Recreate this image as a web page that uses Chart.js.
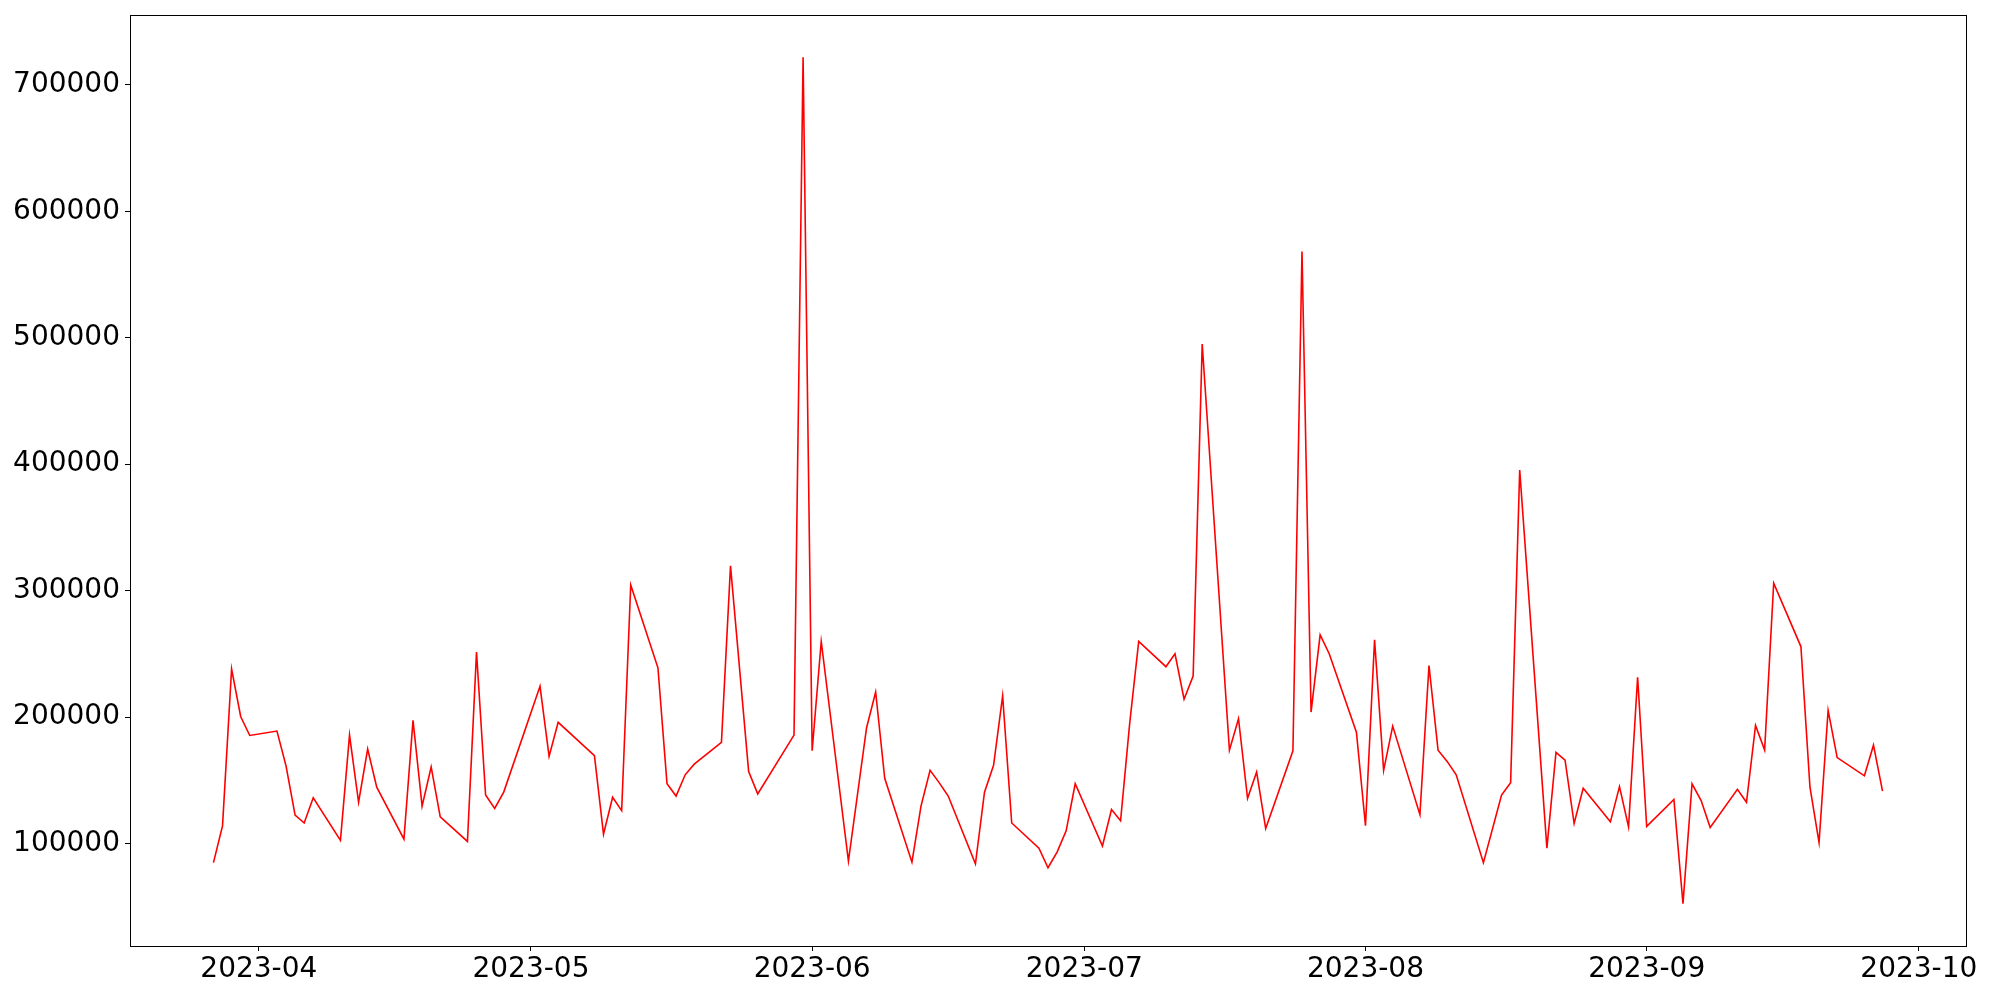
<!DOCTYPE html>
<html>
<head>
<meta charset="utf-8">
<script src="https://cdn.jsdelivr.net/npm/chart.js@4"></script>
<style>
  body { margin: 0; background: #fff; }
  #wrap { width: 2000px; height: 1000px; }
</style>
</head>
<body>
<div id="wrap"><canvas id="chart" width="2000" height="1000"></canvas></div>
<script>
// values
const dates = [
  '2023-03-27','2023-03-28','2023-03-29','2023-03-30','2023-03-31',
  '2023-04-03','2023-04-04','2023-04-05','2023-04-06','2023-04-07',
  '2023-04-10','2023-04-11','2023-04-12','2023-04-13','2023-04-14',
  '2023-04-17','2023-04-18','2023-04-19','2023-04-20','2023-04-21',
  '2023-04-24','2023-04-25','2023-04-26','2023-04-27','2023-04-28',
  '2023-05-02','2023-05-03','2023-05-04',
  '2023-05-08','2023-05-09','2023-05-10','2023-05-11','2023-05-12',
  '2023-05-15','2023-05-16','2023-05-17','2023-05-18','2023-05-19',
  '2023-05-22','2023-05-23','2023-05-25','2023-05-26',
  '2023-05-30','2023-05-31','2023-06-01','2023-06-02',
  '2023-06-05','2023-06-07','2023-06-08','2023-06-09',
  '2023-06-12','2023-06-13','2023-06-14','2023-06-15','2023-06-16',
  '2023-06-19','2023-06-20','2023-06-21','2023-06-22','2023-06-23',
  '2023-06-26','2023-06-27','2023-06-28','2023-06-29','2023-06-30',
  '2023-07-03','2023-07-04','2023-07-05','2023-07-06','2023-07-07',
  '2023-07-10','2023-07-11','2023-07-12','2023-07-13','2023-07-14',
  '2023-07-17','2023-07-18','2023-07-19','2023-07-20','2023-07-21',
  '2023-07-24','2023-07-25','2023-07-26','2023-07-27','2023-07-28',
  '2023-07-31','2023-08-01','2023-08-02','2023-08-03','2023-08-04',
  '2023-08-07','2023-08-08','2023-08-09','2023-08-10','2023-08-11',
  '2023-08-14','2023-08-16','2023-08-17','2023-08-18',
  '2023-08-21','2023-08-22','2023-08-23','2023-08-24','2023-08-25',
  '2023-08-28','2023-08-29','2023-08-30','2023-08-31','2023-09-01',
  '2023-09-04','2023-09-05','2023-09-06','2023-09-07','2023-09-08',
  '2023-09-11','2023-09-12','2023-09-13','2023-09-14','2023-09-15',
  '2023-09-18','2023-09-19','2023-09-20','2023-09-21','2023-09-22',
  '2023-09-25','2023-09-26','2023-09-27'
];

const counts = [
  85000, 114000, 238000, 200500, 185500,
  189000, 161500, 122500, 116300, 136200,
  102600, 185800, 132700, 174800, 144600,
  103500, 197400, 129600, 160600, 121200,
  101700, 251400, 138400, 127800, 140700,
  224400, 168900, 195900,
  169500, 107500, 136700, 126100, 304500,
  239000, 147300, 137600, 154400, 162800,
  180100, 319600, 157000, 139300,
  185800, 721700, 173400, 259800,
  86200, 191600, 219900, 151700,
  85300, 129600, 157900, 148200, 137600,
  84000, 140700, 161900, 216800, 116300,
  96400, 80900, 93300, 110100, 147300,
  98100, 126900, 118100, 194700, 259800,
  239900, 250100, 214200, 232400, 495000,
  173900, 198700, 135800, 156600, 111900,
  173400, 568100, 204000, 265100, 250100,
  188100, 114100, 261100, 157900, 192900,
  122900, 240800, 173900, 165000, 154400,
  84900, 138400, 148200, 395300,
  96400, 172100, 165900, 115900, 143800,
  117200, 145100, 113200, 231500, 113600,
  134900, 52500, 147300, 134000, 112800,
  142900, 132700, 193400, 173900, 305900,
  255800, 144600, 100800, 205300, 168000,
  153600, 177800, 141500
];

const monthTicks = ['2023-04','2023-05','2023-06','2023-07','2023-08','2023-09','2023-10'];
const yTicks = [100000, 200000, 300000, 400000, 500000, 600000, 700000];

function toTime(s) {
  const p = s.split('-').map(Number);
  return Date.UTC(p[0], p[1] - 1, p[2] || 1);
}

const points = dates.map((d, i) => ({ x: toTime(d), y: counts[i] }));

// matplotlib style 5% margins
const xFirst = toTime(dates[0]), xLast = toTime(dates[dates.length - 1]);
const xPad = (xLast - xFirst) * 0.05;
const yMinV = Math.min(...counts), yMaxV = Math.max(...counts);
const yPad = (yMaxV - yMinV) * 0.05;

const tickLabel = {};
monthTicks.forEach(m => { tickLabel[toTime(m)] = m; });

const frame = {
  id: 'frame',
  afterDraw(chart) {
    const a = chart.chartArea, ctx = chart.ctx;
    ctx.save();
    ctx.strokeStyle = '#000';
    ctx.lineWidth = 1;
    ctx.strokeRect(Math.round(a.left) + 0.5, Math.round(a.top) + 0.5,
      Math.round(a.right - a.left), Math.round(a.bottom - a.top));
    ctx.restore();
  }
};

const tickFont = { family: 'DejaVu Sans', size: 28 };

new Chart(document.getElementById('chart').getContext('2d'), {
  type: 'line',
  data: {
    datasets: [{
      data: points,
      borderColor: '#ff0000',
      borderWidth: 1.6,
      pointRadius: 0,
      tension: 0,
      fill: false
    }]
  },
  options: {
    responsive: false,
    animation: false,
    devicePixelRatio: 1,
    layout: { padding: { top: 15, right: 34, left: 0, bottom: 0 } },
    plugins: { legend: { display: false }, tooltip: { enabled: false } },
    scales: {
      x: {
        type: 'linear',
        min: xFirst - xPad,
        max: xLast + xPad,
        afterBuildTicks: s => { s.ticks = monthTicks.map(m => ({ value: toTime(m) })); },
        afterFit: s => { s.height = 54; s.paddingLeft = 0; s.paddingRight = 0; },
        border: { display: false },
        grid: { display: true, drawOnChartArea: false, drawTicks: true, tickLength: 5, color: '#000', lineWidth: 1 },
        ticks: {
          autoSkip: false, maxRotation: 0, padding: 2,
          color: '#000', font: tickFont,
          callback: v => tickLabel[v] || ''
        }
      },
      y: {
        type: 'linear',
        min: yMinV - yPad,
        max: yMaxV + yPad,
        afterBuildTicks: s => { s.ticks = yTicks.map(v => ({ value: v })); },
        afterFit: s => { s.width = 130; s.paddingTop = 0; s.paddingBottom = 0; },
        border: { display: false },
        grid: { display: true, drawOnChartArea: false, drawTicks: true, tickLength: 5, color: '#000', lineWidth: 1 },
        ticks: {
          padding: 5, color: '#000', font: tickFont,
          callback: v => String(v)
        }
      }
    }
  },
  plugins: [frame]
});
</script>
</body>
</html>
